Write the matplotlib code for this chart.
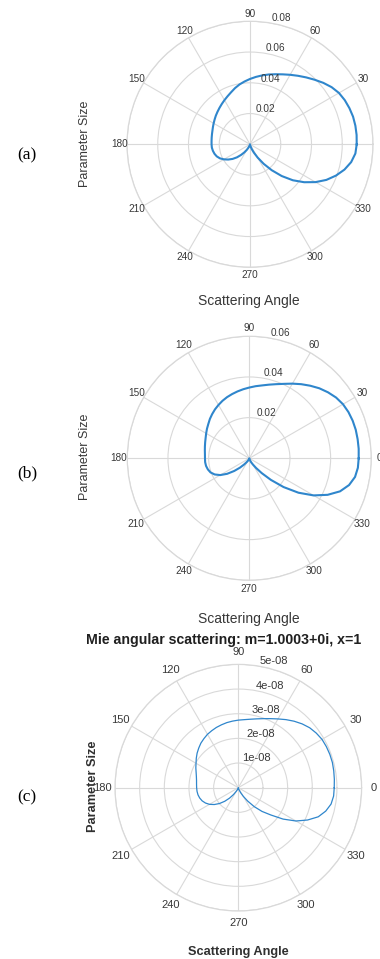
import numpy as np
import matplotlib
matplotlib.use("Agg")
import matplotlib.pyplot as plt

plt.rcParams["font.family"] = ["Liberation Sans", "DejaVu Sans"]

angles = list(range(0, 365, 5))

# (a) 0..180 = upper half (|S1|^2), 185..360 = lower half (|S2|^2 mirrored)
r_a = [0.0694, 0.0696, 0.0696, 0.0694, 0.0688, 0.0680, 0.0668, 0.0648, 0.0622, 0.0594,
       0.0568, 0.0544, 0.0522, 0.0502, 0.0485, 0.0470, 0.0455, 0.0440, 0.0425, 0.0410,
       0.0395, 0.0378, 0.0360, 0.0345, 0.0332, 0.0320, 0.0309, 0.0299, 0.0290, 0.0281,
       0.0273, 0.0266, 0.0260, 0.0256, 0.0253, 0.0251, 0.0250,
       0.0249, 0.0245, 0.0239, 0.0230, 0.0216, 0.0196, 0.0173, 0.0148, 0.0120, 0.0090,
       0.0064, 0.0042, 0.0025, 0.0012, 0.0005, 0.0002, 0.00005, 0.0,
       0.0001, 0.0004, 0.0014, 0.0033, 0.0060, 0.0100, 0.0155, 0.0220, 0.0292, 0.0364,
       0.0430, 0.0492, 0.0548, 0.0595, 0.0636, 0.0668, 0.0688, 0.0694]

# (b)
r_b = [0.0538, 0.0540, 0.0541, 0.0542, 0.0541, 0.0538, 0.0532, 0.0521, 0.0505, 0.0487,
       0.0466, 0.0445, 0.0424, 0.0404, 0.0388, 0.0375, 0.0364, 0.0356, 0.0348, 0.0341,
       0.0334, 0.0327, 0.0320, 0.0312, 0.0303, 0.0294, 0.0284, 0.0274, 0.0263, 0.0254,
       0.0245, 0.0237, 0.0231, 0.0226, 0.0222, 0.0219, 0.0218,
       0.0218, 0.0216, 0.0211, 0.0203, 0.0188, 0.0165, 0.0133, 0.0097, 0.0065, 0.0040,
       0.0024, 0.0015, 0.0008, 0.0004, 0.0002, 0.0001, 0.00003, 0.0,
       0.0001, 0.0002, 0.0006, 0.0012, 0.0022, 0.0035, 0.0058, 0.0095, 0.0150, 0.0220,
       0.0295, 0.0365, 0.0425, 0.0475, 0.0508, 0.0528, 0.0536, 0.0538]

# (c) in units of 1e-8
r_c = [3.89, 3.91, 3.93, 3.95, 3.95, 3.94, 3.92, 3.86, 3.78, 3.66,
       3.52, 3.37, 3.22, 3.09, 2.98, 2.89, 2.82, 2.77, 2.74, 2.71,
       2.68, 2.64, 2.60, 2.55, 2.50, 2.43, 2.36, 2.27, 2.18, 2.08,
       1.98, 1.90, 1.82, 1.76, 1.72, 1.70, 1.69,
       1.68, 1.66, 1.62, 1.56, 1.47, 1.35, 1.19, 1.00, 0.78, 0.55,
       0.34, 0.18, 0.10, 0.05, 0.025, 0.01, 0.003, 0.0,
       0.002, 0.01, 0.04, 0.10, 0.22, 0.40, 0.66, 1.00, 1.36, 1.72,
       2.22, 2.70, 3.10, 3.45, 3.67, 3.82, 3.88, 3.89]

rings_a = [0.02, 0.04, 0.06, 0.08]
ring_labels_a = ["0.02", "0.04", "0.06", "0.08"]
rings_b = [0.02, 0.04, 0.06]
ring_labels_b = ["0.02", "0.04", "0.06"]
rings_c = [1e-8, 2e-8, 3e-8, 4e-8, 5e-8]
ring_labels_c = ["1e-08", "2e-08", "3e-08", "4e-08", "5e-08"]

spoke_angles = [0, 30, 60, 90, 120, 150, 180, 210, 240, 270, 300, 330]

W, H = 380, 959
fig = plt.figure(figsize=(W / 100, H / 100), dpi=100)
fig.patch.set_facecolor("white")

GRID = "#d9d9d9"
TXT = "#383838"
BLUE = "#2f86cc"


def px_axes(cx, cy, rad):
    return [(cx - rad) / W, (H - cy - rad) / H, 2 * rad / W, 2 * rad / H]


def polar_panel(box, r, rings, ring_labels, lw, fs, lab_fac, skip=()):
    ax = fig.add_axes(box, projection="polar")
    th = np.deg2rad(angles)
    ax.plot(th, r, color=BLUE, lw=lw, zorder=3, solid_joinstyle="round")
    rmax = rings[-1]
    ax.set_ylim(0, rmax)
    ax.set_rgrids(rings, labels=[""] * len(rings))
    ax.set_thetagrids(spoke_angles, labels=[""] * len(spoke_angles))
    ax.grid(True, color=GRID, lw=0.8)
    ax.spines["polar"].set_color(GRID)
    ax.spines["polar"].set_linewidth(0.9)
    for a in spoke_angles:
        if a in skip:
            continue
        ax.text(np.deg2rad(a), rmax * lab_fac, str(a), ha="center", va="center",
                fontsize=fs, color=TXT, clip_on=False)
    for rr, lab in zip(rings, ring_labels):
        ax.text(np.deg2rad(80), rr, lab, ha="left", va="bottom", fontsize=fs,
                color=TXT, clip_on=False)
    return ax


r_c_scaled = [v * 1e-8 for v in r_c]

polar_panel(px_axes(250, 144.3, 123), r_a, rings_a, ring_labels_a, 1.5, 7.2, 1.06, skip=(0,))
polar_panel(px_axes(249.3, 458.3, 122), r_b, rings_b, ring_labels_b, 1.5, 7.2, 1.07)
polar_panel(px_axes(238.3, 787.7, 123.3), r_c_scaled, rings_c, ring_labels_c, 0.9, 8, 1.1)


def ftext(x, y, s, **kw):
    fig.text(x / W, 1 - y / H, s, ha="center", va="center", **kw)


# axis labels
ftext(85, 144, "Parameter Size", rotation=90, fontsize=9, color=TXT)
ftext(249, 301, "Scattering Angle", fontsize=10, color=TXT)
ftext(85, 457, "Parameter Size", rotation=90, fontsize=9, color=TXT)
ftext(249, 619, "Scattering Angle", fontsize=10, color=TXT)
ftext(224, 640, "Mie angular scattering: m=1.0003+0i, x=1", fontsize=10.2,
      fontweight="bold", color="#202020")
ftext(93, 786, "Parameter Size", rotation=90, fontsize=9.2, fontweight="bold", color="#303030")
ftext(238, 952, "Scattering Angle", fontsize=9.2, fontweight="bold", color="#303030")

# panel letters
for y, s in [(155, "(a)"), (473, "(b)"), (797, "(c)")]:
    ftext(27, y, s, fontsize=12.5, family="Liberation Serif", color="black")

fig.savefig("out.png", dpi=100)
